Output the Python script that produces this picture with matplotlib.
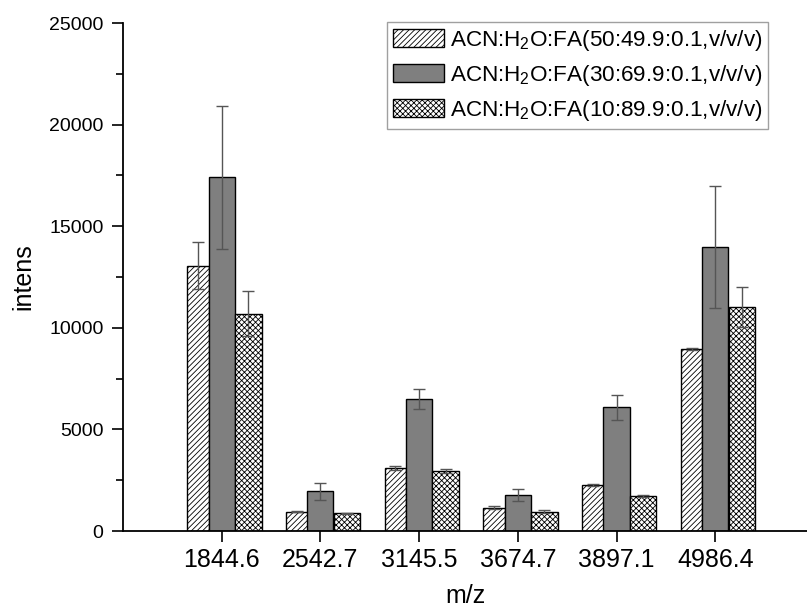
import numpy as np
import matplotlib
matplotlib.use('Agg')
import matplotlib.pyplot as plt

plt.rcParams['font.family'] = ['Liberation Sans', 'DejaVu Sans']
plt.rcParams['mathtext.fontset'] = 'custom'
plt.rcParams['mathtext.rm'] = 'Liberation Sans'
plt.rcParams['mathtext.it'] = 'Liberation Sans'
plt.rcParams['hatch.linewidth'] = 0.6

mz = ['1844.6', '2542.7', '3145.5', '3674.7', '3897.1', '4986.4']
labels = [r'ACN:H$_2$O:FA(50:49.9:0.1,v/v/v)',
          r'ACN:H$_2$O:FA(30:69.9:0.1,v/v/v)',
          r'ACN:H$_2$O:FA(10:89.9:0.1,v/v/v)']

a50 = [13050, 950, 3100, 1150, 2270, 8950]
a50_err = [1150, 30, 120, 60, 40, 40]
a30 = [17400, 1950, 6500, 1780, 6080, 13980]
a30_err = [3500, 400, 500, 300, 620, 3000]
a10 = [10700, 880, 2950, 950, 1730, 11030]
a10_err = [1100, 30, 80, 60, 40, 1000]

fig = plt.figure(figsize=(8.07, 6.11), dpi=100)
ax = fig.add_axes([123/807, 80/611, 1 - 123/807, 508/611])

x = np.arange(len(mz))
ekw = dict(ecolor='#555555', elinewidth=1.0, capsize=4, capthick=1.0)
ax.bar(x - 0.24, a50, 0.22, yerr=a50_err, color='white', edgecolor='black',
       hatch='//////', linewidth=1.0, label=labels[0], error_kw=ekw)
ax.bar(x, a30, 0.265, yerr=a30_err, color='#7f7f7f', edgecolor='black',
       linewidth=1.0, label=labels[1], error_kw=ekw)
ax.bar(x + 0.27, a10, 0.27, yerr=a10_err, color='white', edgecolor='black',
       hatch='xxxxxx', linewidth=1.0, label=labels[2], error_kw=ekw)

ax.set_xlim(-1, 5.93)
ax.set_ylim(0, 25000)
ax.set_xticks(x)
ax.set_xticklabels(mz, fontsize=18)
ax.set_yticks(np.arange(0, 25001, 5000))
ax.set_yticks(np.arange(0, 25001, 2500), minor=True)
ax.tick_params(axis='y', labelsize=14, pad=6)
ax.tick_params(axis='x', pad=4)
ax.tick_params(which='major', direction='out', length=8, width=1.2)
ax.tick_params(which='minor', direction='out', length=5, width=1.2)
ax.spines['top'].set_visible(False)
ax.spines['right'].set_visible(False)
ax.spines['left'].set_linewidth(1.3)
ax.spines['bottom'].set_linewidth(1.3)
ax.set_xlabel('m/z', fontsize=18, labelpad=9)
ax.set_ylabel('intens', fontsize=18, labelpad=10)

leg = ax.legend(loc='upper right', bbox_to_anchor=(768/807, 1 - 22/611),
                bbox_transform=fig.transFigure, fontsize=16.2, frameon=True,
                fancybox=False, edgecolor='#888888', handlelength=2.27,
                handleheight=0.9, labelspacing=0.45, borderpad=0.25,
                handletextpad=0.27, borderaxespad=0)
leg.get_frame().set_linewidth(1.0)

fig.savefig('out.png', dpi=100)
